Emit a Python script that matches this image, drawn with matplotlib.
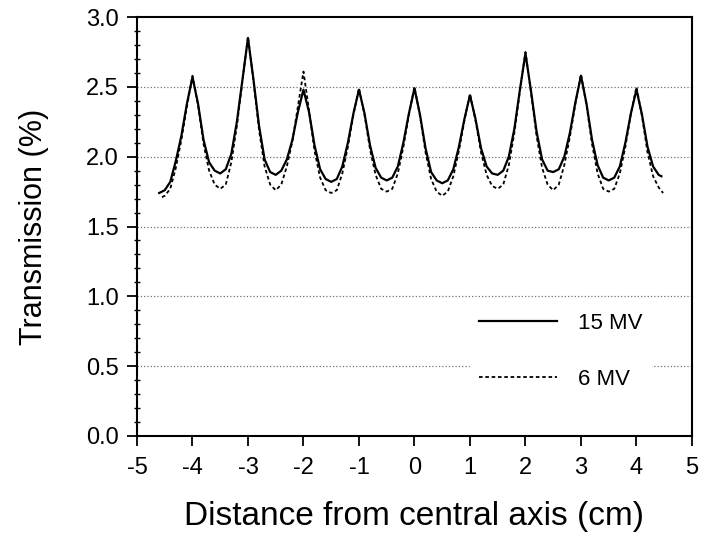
import numpy as np
import matplotlib
matplotlib.use("Agg")
import matplotlib.pyplot as plt
from matplotlib.ticker import MultipleLocator

plt.rcParams['font.family'] = ['Liberation Sans', 'DejaVu Sans']

# 15 MV transmission profile
x_15 = [-4.6, -4.5, -4.4, -4.3, -4.2, -4.1, -4.0, -3.9, -3.8, -3.7, -3.6, -3.5,
        -3.4, -3.3, -3.2, -3.1, -3.0, -2.9, -2.8, -2.7, -2.6, -2.5, -2.4, -2.3,
        -2.2, -2.1, -2.0, -1.9, -1.8, -1.7, -1.6, -1.5, -1.4, -1.3, -1.2, -1.1,
        -1.0, -0.9, -0.8, -0.7, -0.6, -0.5, -0.4, -0.3, -0.2, -0.1, 0.0, 0.1,
        0.2, 0.3, 0.4, 0.5, 0.6, 0.7, 0.8, 0.9, 1.0, 1.1, 1.2, 1.3,
        1.4, 1.5, 1.6, 1.7, 1.8, 1.9, 2.0, 2.1, 2.2, 2.3, 2.4, 2.5,
        2.6, 2.7, 2.8, 2.9, 3.0, 3.1, 3.2, 3.3, 3.4, 3.5, 3.6, 3.7,
        3.8, 3.9, 4.0, 4.1, 4.2, 4.3, 4.4, 4.45]
t_15 = [1.74, 1.76, 1.82, 1.97, 2.15, 2.38, 2.57, 2.38, 2.12, 1.96, 1.90, 1.88,
        1.91, 2.02, 2.25, 2.55, 2.85, 2.55, 2.22, 1.98, 1.89, 1.87, 1.90, 1.98,
        2.12, 2.32, 2.48, 2.32, 2.08, 1.91, 1.84, 1.82, 1.84, 1.93, 2.10, 2.31,
        2.48, 2.31, 2.08, 1.92, 1.85, 1.83, 1.85, 1.93, 2.10, 2.31, 2.49, 2.30,
        2.06, 1.89, 1.83, 1.81, 1.83, 1.91, 2.07, 2.27, 2.44, 2.27, 2.06, 1.93,
        1.88, 1.87, 1.90, 2.00, 2.20, 2.48, 2.74, 2.47, 2.18, 1.98, 1.90, 1.89,
        1.91, 2.00, 2.17, 2.39, 2.58, 2.38, 2.12, 1.94, 1.85, 1.83, 1.85, 1.93,
        2.10, 2.31, 2.48, 2.30, 2.07, 1.93, 1.87, 1.86]

# 6 MV transmission profile
x_6 = [-4.55, -4.5, -4.4, -4.3, -4.2, -4.1, -4.0, -3.9, -3.8, -3.7, -3.6, -3.5,
       -3.4, -3.3, -3.2, -3.1, -3.0, -2.9, -2.8, -2.7, -2.6, -2.5, -2.4, -2.3,
       -2.2, -2.1, -2.0, -1.9, -1.8, -1.7, -1.6, -1.5, -1.4, -1.3, -1.2, -1.1,
       -1.0, -0.9, -0.8, -0.7, -0.6, -0.5, -0.4, -0.3, -0.2, -0.1, 0.0, 0.1,
       0.2, 0.3, 0.4, 0.5, 0.6, 0.7, 0.8, 0.9, 1.0, 1.1, 1.2, 1.3,
       1.4, 1.5, 1.6, 1.7, 1.8, 1.9, 2.0, 2.1, 2.2, 2.3, 2.4, 2.5,
       2.6, 2.7, 2.8, 2.9, 3.0, 3.1, 3.2, 3.3, 3.4, 3.5, 3.6, 3.7,
       3.8, 3.9, 4.0, 4.1, 4.2, 4.3, 4.4, 4.48]
t_6 = [1.71, 1.72, 1.77, 1.92, 2.12, 2.36, 2.58, 2.37, 2.09, 1.90, 1.80, 1.77,
       1.80, 1.96, 2.22, 2.54, 2.86, 2.54, 2.19, 1.93, 1.80, 1.76, 1.80, 1.93,
       2.11, 2.36, 2.61, 2.33, 2.04, 1.85, 1.76, 1.74, 1.76, 1.88, 2.07, 2.30,
       2.49, 2.30, 2.05, 1.87, 1.77, 1.75, 1.77, 1.88, 2.07, 2.30, 2.50, 2.29,
       2.03, 1.84, 1.75, 1.72, 1.75, 1.86, 2.04, 2.26, 2.45, 2.26, 2.03, 1.87,
       1.79, 1.77, 1.80, 1.94, 2.17, 2.47, 2.75, 2.46, 2.15, 1.92, 1.80, 1.76,
       1.80, 1.94, 2.14, 2.38, 2.59, 2.37, 2.09, 1.88, 1.77, 1.75, 1.77, 1.88,
       2.07, 2.31, 2.50, 2.29, 2.03, 1.86, 1.78, 1.74]

x_ticks = [-5, -4, -3, -2, -1, 0, 1, 2, 3, 4, 5]
y_ticks = [0.0, 0.5, 1.0, 1.5, 2.0, 2.5, 3.0]

fig = plt.figure(figsize=(7.01, 5.33), dpi=100)
ax = fig.add_axes([0.1954, 0.182, 0.7917, 0.786])

# dotted horizontal grid
for yv in y_ticks[1:-1]:
    ax.axhline(yv, color='0.45', linestyle=':', linewidth=0.9, zorder=0)

ax.plot(x_15, t_15, color='black', linewidth=1.6, label='15 MV', zorder=3,
        solid_joinstyle='round')
ax.plot(x_6, t_6, color='black', linewidth=1.3, linestyle=(0, (2, 1.5)),
        label='6 MV', zorder=2)

ax.set_xlim(-5, 5)
ax.set_ylim(0, 3.0)
ax.set_xticks(x_ticks)
ax.set_xticklabels([str(v) for v in x_ticks])
ax.set_yticks(y_ticks)
ax.set_yticklabels([f'{v:.1f}' for v in y_ticks])
ax.yaxis.set_minor_locator(MultipleLocator(0.1))
ax.tick_params(axis='both', which='major', direction='out', length=7,
               width=1.3, labelsize=17, colors='black')
ax.tick_params(axis='y', which='minor', direction='inout', length=5, width=1.0)
ax.tick_params(axis='x', pad=8)
ax.tick_params(axis='y', pad=6)

for s in ax.spines.values():
    s.set_linewidth(1.5)

ax.set_xlabel('Distance from central axis (cm)', fontsize=24, labelpad=16)
ax.set_ylabel('Transmission (%)', fontsize=22, labelpad=27)

leg = ax.legend(loc='center left', bbox_to_anchor=(0.6, 0.2017),
                borderaxespad=0, borderpad=0.4, frameon=True, fancybox=False,
                framealpha=1, edgecolor='white', facecolor='white',
                fontsize=16, handlelength=3.5, handletextpad=0.95,
                labelspacing=1.55)

fig.savefig('out.png', dpi=100)
